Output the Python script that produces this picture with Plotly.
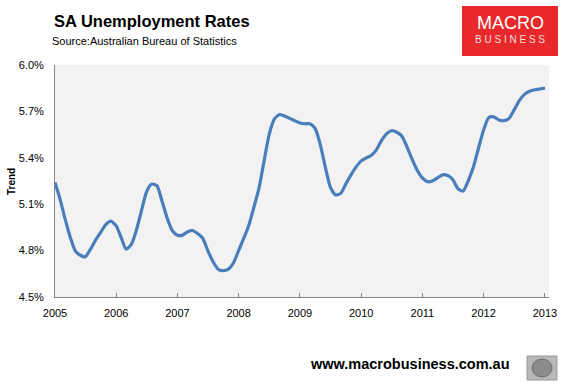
import pandas as pd
import plotly.graph_objects as go

# Monthly SA unemployment trend, Jan 2005 - Jan 2013 (percent)
dates = pd.date_range("2005-01-01", periods=97, freq="MS")
rates = [
    5.24, 5.13, 5.01, 4.89, 4.80, 4.77, 4.76, 4.81, 4.87, 4.92, 4.97, 4.99,
    4.96, 4.88, 4.81, 4.84, 4.93, 5.06, 5.18, 5.23, 5.22, 5.12, 5.01, 4.93,
    4.90, 4.90, 4.92, 4.93, 4.91, 4.88, 4.80, 4.73, 4.68, 4.67, 4.68, 4.72,
    4.80, 4.88, 4.96, 5.08, 5.20, 5.38, 5.55, 5.65, 5.68, 5.67, 5.655, 5.64,
    5.625, 5.62, 5.62, 5.59, 5.49, 5.34, 5.21, 5.16, 5.17, 5.23, 5.29, 5.34,
    5.38, 5.40, 5.415, 5.45, 5.51, 5.555, 5.575, 5.565, 5.54, 5.47, 5.39, 5.32,
    5.27, 5.245, 5.25, 5.27, 5.29, 5.285, 5.26, 5.20, 5.185, 5.25, 5.34, 5.46,
    5.58, 5.66, 5.665, 5.645, 5.64, 5.655, 5.71, 5.77, 5.81, 5.83, 5.84, 5.845,
    5.85,
]
y_ticks = [4.5, 4.8, 5.1, 5.4, 5.7, 6.0]
y_tick_labels = ["4.5%", "4.8%", "5.1%", "5.4%", "5.7%", "6.0%"]

FONT = "Liberation Sans, Arial, sans-serif"

# pixel helpers (plot area: x 55..549, y 65..297)
L, R, T, B = 55, 549, 65, 297
def px(x):
    return (x - L) / (R - L)
def py(y):
    return (B - y) / (B - T)

fig = go.Figure()
fig.add_trace(go.Scatter(
    x=dates, y=rates, mode="lines",
    line=dict(color="#4a7ebb", width=3.2, shape="spline", smoothing=0.6),
    hoverinfo="skip", showlegend=False,
))

fig.update_layout(
    width=568, height=384,
    margin=dict(l=L, r=568 - R, t=T, b=384 - B),
    paper_bgcolor="white",
    plot_bgcolor="#f2f2f2",
    font=dict(family=FONT, size=11, color="#000000"),
    xaxis=dict(
        range=["2005-01-01", "2013-01-25"],
        tick0="2005-01-01", dtick="M12", tickformat="%Y",
        ticks="inside", ticklen=4, tickcolor="#868686",
        showline=True, linecolor="#868686", linewidth=1,
        showgrid=False, zeroline=False,
        ticklabelstandoff=6,
        tickfont=dict(size=11, color="#000000"),
    ),
    yaxis=dict(
        range=[4.5, 6.0],
        tickvals=y_ticks, ticktext=y_tick_labels,
        ticks="", showline=True, linecolor="#868686", linewidth=1,
        showgrid=False, zeroline=False,
        ticklabelstandoff=8,
        tickfont=dict(size=11, color="#000000"),
    ),
    shapes=[
        dict(type="rect", xref="paper", yref="paper",
             x0=px(462), x1=px(558), y0=py(56), y1=py(6),
             fillcolor="#e8282a", line=dict(width=0), layer="above"),
        dict(type="rect", xref="paper", yref="paper",
             x0=px(527), x1=px(557), y0=py(380), y1=py(356),
             fillcolor="#b8b8b8", line=dict(color="#999999", width=1)),
        dict(type="circle", xref="paper", yref="paper",
             x0=px(532), x1=px(552), y0=py(377), y1=py(359),
             fillcolor="#8c8c8c", line=dict(color="#6f6f6f", width=1)),
    ],
    annotations=[
        dict(text="<b>SA Unemployment Rates</b>", xref="paper", yref="paper",
             x=px(52), y=py(21), xanchor="left", yanchor="middle",
             showarrow=False, font=dict(family=FONT, size=16.5, color="#000000")),
        dict(text="Source:Australian Bureau of Statistics", xref="paper", yref="paper",
             x=px(50), y=py(41), xanchor="left", yanchor="middle",
             showarrow=False, font=dict(family=FONT, size=11, color="#000000")),
        dict(text="MACRO", xref="paper", yref="paper",
             x=px(510), y=py(23), xanchor="center", yanchor="middle",
             showarrow=False, font=dict(family=FONT, size=18, color="#ffffff")),
        dict(text="B U S I N E S S", xref="paper", yref="paper",
             x=px(510), y=py(40), xanchor="center", yanchor="middle",
             showarrow=False, font=dict(family=FONT, size=10, color="#f6dcdc")),
        dict(text="<b>Trend</b>", xref="paper", yref="paper",
             x=px(11), y=py(182), xanchor="center", yanchor="middle",
             textangle=-90, showarrow=False, font=dict(family=FONT, size=10, color="#000000")),
        dict(text="<b>www.macrobusiness.com.au</b>", xref="paper", yref="paper",
             x=px(512), y=py(364), xanchor="right", yanchor="middle",
             showarrow=False, font=dict(family=FONT, size=14.5, color="#000000")),
    ],
)

fig.write_html(
    "out.html",
    config={"displayModeBar": False},
    post_script="document.body.style.margin='0';document.body.style.padding='0';",
)
